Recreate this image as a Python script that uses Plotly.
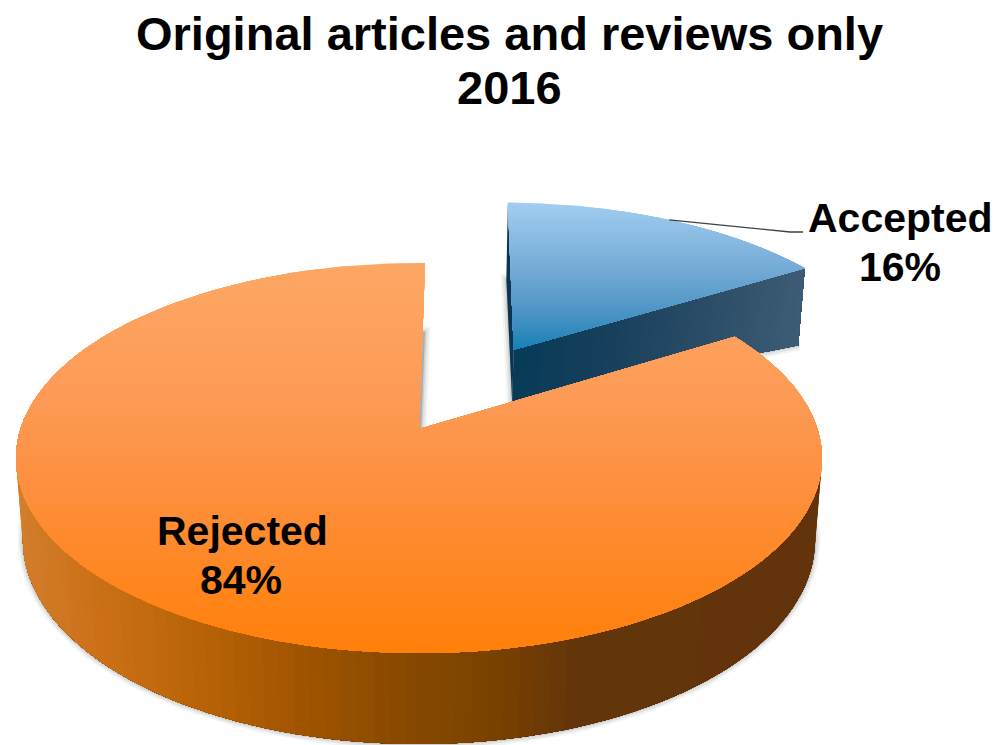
import numpy as np
import plotly.graph_objects as go

categories = ["Accepted", "Rejected"]
shares = [16, 84]
title_lines = ["Original articles and reviews only", "2016"]

# image of the pie plane: a circle seen in perspective
CX, CY = 419, 429
SX, SY = 398.5, 190.7
PERSP = 0.149
SHRINK = 0.017
START = 1.0
PULL = 0.51

top_stops = {
    "Accepted": [(0, "#a0cdf0"), (0.45, "#74aad6"), (0.75, "#4a93c4"), (1, "#1480b4")],
    "Rejected": [(0, "#fda764"), (0.35, "#fd9a55"), (0.55, "#fe9040"), (1, "#ff7f08")],
}
wall_stops = {
    "Accepted": [(505, "#053b58"), (600, "#163f5c"), (700, "#2a4c66"), (805, "#3e5c76")],
    "Rejected": [(15, "#d27e2c"), (100, "#cc7018"), (200, "#b96408"), (300, "#a35500"),
                 (400, "#8a4a00"), (500, "#7a4200"), (585, "#63350a"), (825, "#63340b")],
}
# depth of the wall in px: at the apex, on the rim, and its change front to back
depths = {
    "Accepted": (52, 77, 0),
    "Rejected": (52, 80, -11),
}


def hex_rgb(c):
    return np.array([int(c[i:i + 2], 16) for i in (1, 3, 5)], dtype=float)


def ramp(stops, t):
    pos = [s[0] for s in stops]
    rgb = np.array([hex_rgb(s[1]) for s in stops])
    vals = [np.interp(t, pos, rgb[:, i]) for i in range(3)]
    return "rgb(%d,%d,%d)" % tuple(round(v) for v in vals)


def project(X, Y):
    w = 1 + PERSP * Y
    return CX + SX * X / w, CY - SY * Y / w


def lower(X, Y, depth):
    x, y = project(X, Y)
    return x - (x - CX) * SHRINK, y + depth


def clip_below(points, level):
    # keep the part of the polygon with y >= level
    out = []
    for i, p in enumerate(points):
        q = points[(i + 1) % len(points)]
        if p[1] >= level:
            out.append(p)
        if (p[1] >= level) != (q[1] >= level):
            t = (level - p[1]) / (q[1] - p[1])
            out.append((p[0] + t * (q[0] - p[0]), level))
    return out


def poly(fig, points, color, line=0.0, line_color=None):
    xs = [p[0] for p in points] + [points[0][0]]
    ys = [p[1] for p in points] + [points[0][1]]
    fig.add_trace(go.Scatter(x=xs, y=ys, mode="lines", fill="toself", fillcolor=color,
                             line=dict(width=line, color=line_color or color),
                             hoverinfo="skip", showlegend=False))


def draw_slice(fig, name, a0, a1, pull):
    mid = np.radians((a0 + a1) / 2)
    ox, oy = pull * np.sin(mid), pull * np.cos(mid)
    apex_d, rim_d, rim_tilt = depths[name]
    angles = np.radians(np.arange(a0, a1 + 0.01, (a1 - a0) / 150))
    rim = [(ox + np.sin(a), oy + np.cos(a)) for a in angles]

    def rim_depth(Y):
        return rim_d + rim_tilt * Y

    top = [project(ox, oy)] + [project(*p) for p in rim]
    bottom = [lower(ox, oy, apex_d)] + [lower(p[0], p[1], rim_depth(p[1])) for p in rim]

    # soft shadow round the foot of the slice
    for width, alpha in [(11, 0.07), (7, 0.1), (3, 0.16)]:
        poly(fig, bottom, "rgba(90,95,100,%s)" % alpha, line=width,
             line_color="rgba(90,95,100,%s)" % alpha)

    wall = wall_stops[name]
    if name == "Accepted":
        # radial faces, each band reaches to the far end so no seams show
        poly(fig, [top[0], top[1], bottom[1], bottom[0]], "#0b3550")
        a, b = top[-1], bottom[-1]
        c, d = top[0], bottom[0]
        for i in range(60):
            t = i / 60
            quad = [(c[0] + (a[0] - c[0]) * t, c[1] + (a[1] - c[1]) * t), a, b,
                    (d[0] + (b[0] - d[0]) * t, d[1] + (b[1] - d[1]) * t)]
            poly(fig, quad, ramp(wall, quad[0][0]))
    else:
        # outer wall, only the front half can be seen
        front = [i for i in range(1, len(top)) if rim[i - 1][1] < 0.1]
        last = front[-1]
        for i in front[:-1]:
            piece = top[i:last + 1] + bottom[i:last + 1][::-1]
            poly(fig, piece, ramp(wall, top[i][0]))

    # top face, painted band by band from back to front
    ymin = min(p[1] for p in top)
    ymax = max(p[1] for p in top)
    step = 3
    poly(fig, top, ramp(top_stops[name], 0))
    for level in np.arange(ymin + step, ymax, step):
        piece = clip_below(top, level)
        if len(piece) > 2:
            poly(fig, piece, ramp(top_stops[name], (level - ymin) / (ymax - ymin)))


fig = go.Figure()

cuts = np.cumsum([0] + shares) / sum(shares) * 360 + START
draw_slice(fig, categories[0], cuts[0], cuts[1], PULL)
draw_slice(fig, categories[1], cuts[1], cuts[2], 0)

# leader from the middle of the Accepted rim to its label
mid = np.radians((cuts[0] + cuts[1]) / 2)
lead = project((1 + PULL) * np.sin(mid), (1 + PULL) * np.cos(mid))
fig.add_trace(go.Scatter(x=[lead[0], 790, 803], y=[lead[1], 232, 232], mode="lines",
                         line=dict(width=1.3, color="#3c4248"),
                         hoverinfo="skip", showlegend=False))


def label(text, x, y, size):
    fig.add_annotation(x=x, y=y, text="<b>%s</b>" % text, showarrow=False, align="center",
                       font=dict(family="Liberation Sans", size=size, color="#000000"))


label(title_lines[0], 509, 33, 47)
label(title_lines[1], 509, 87, 47)
label(categories[0], 900, 218, 41)
label("%d%%" % shares[0], 900, 267, 41)
label(categories[1], 242, 531, 41)
label("%d%%" % shares[1], 241, 580, 41)

fig.update_layout(
    width=999,
    height=745,
    margin=dict(l=0, r=0, t=0, b=0),
    paper_bgcolor="white",
    plot_bgcolor="white",
    showlegend=False,
    xaxis=dict(range=[0, 999], visible=False),
    yaxis=dict(range=[745, 0], visible=False),
)

fig.write_html("out.html", config=dict(displayModeBar=False),
               post_script="document.body.style.margin='0';")
